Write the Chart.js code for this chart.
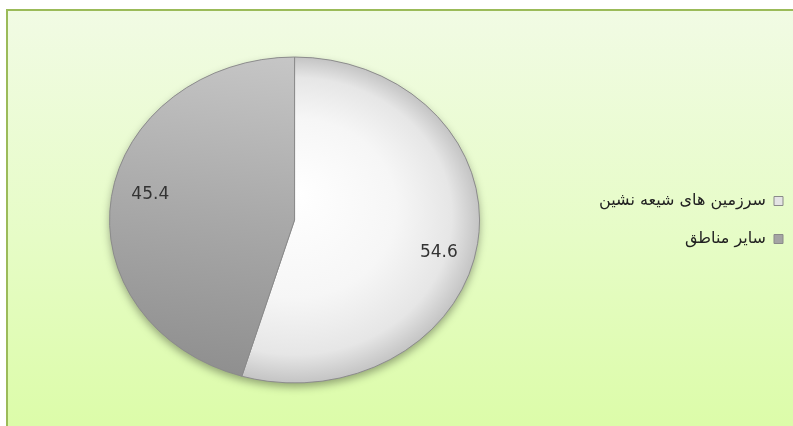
<!DOCTYPE html>
<html>
<head>
<meta charset="utf-8">
<script src="https://cdn.jsdelivr.net/npm/chart.js@4"></script>
<style>
  html, body { margin: 0; padding: 0; width: 793px; height: 426px; overflow: hidden; background: #ffffff; }
  #frame { position: absolute; left: 6px; top: 9px; width: 787px; height: 417px;
           border-left: 2px solid #9bbb59; border-top: 2px solid #9bbb59; box-sizing: border-box;
           background: linear-gradient(to bottom, #f1fbe4 0%, #e6fcc6 55%, #dcfca9 100%); }
  #c { position: absolute; left: 0; top: 0; }
</style>
</head>
<body>
<div id="frame"></div>
<canvas id="c" width="793" height="426"></canvas>
<script>
// ---- data ----
const categories = ['سرزمین های شیعه نشین', 'سایر مناطق'];
const values = [54.6, 45.4];
const valueLabels = ['54.6', '45.4'];

// ---- styles ----
const legendColors = ['#e4e4e4', '#a4a4a4'];
const ellipseRatio = 0.881;
const pieRadius = 185;

function pieCenter(chart) {
  const a = chart.chartArea;
  return { x: (a.left + a.right) / 2, y: (a.top + a.bottom) / 2 };
}

function sliceFill(context) {
  const chart = context.chart;
  if (!chart.chartArea) return '#cccccc';
  const c = pieCenter(chart);
  const g = chart.ctx;
  if (context.dataIndex === 0) {
    const rg = g.createRadialGradient(c.x, c.y - 30, 0, c.x, c.y, pieRadius);
    rg.addColorStop(0, '#ffffff');
    rg.addColorStop(0.55, '#f6f6f6');
    rg.addColorStop(0.85, '#e6e6e6');
    rg.addColorStop(1, '#c4c4c4');
    return rg;
  } else {
    const lg = g.createLinearGradient(c.x, c.y - pieRadius, c.x - 60, c.y + pieRadius);
    lg.addColorStop(0, '#c6c6c6');
    lg.addColorStop(0.5, '#a9a9a9');
    lg.addColorStop(1, '#8e8e8e');
    return lg;
  }
}

const ellipsePlugin = {
  id: 'ellipse',
  beforeDatasetsDraw(chart) {
    const ctx = chart.ctx;
    const c = pieCenter(chart);
    ctx.save();
    ctx.translate(c.x, c.y);
    ctx.scale(1, ellipseRatio);
    ctx.translate(-c.x, -c.y);
    // soft shadow under the pie
    const arc = chart.getDatasetMeta(0).data[0];
    ctx.save();
    ctx.shadowColor = 'rgba(0,0,0,0.35)';
    ctx.shadowBlur = 8;
    ctx.shadowOffsetY = 4;
    ctx.beginPath();
    ctx.arc(arc.x, arc.y, arc.outerRadius, 0, Math.PI * 2);
    ctx.fillStyle = '#9a9a9a';
    ctx.fill();
    ctx.restore();
  },
  afterDatasetsDraw(chart) {
    const ctx = chart.ctx;
    ctx.restore();
    // value labels
    const meta = chart.getDatasetMeta(0);
    const c = pieCenter(chart);
    ctx.save();
    ctx.font = '17px "DejaVu Sans", Verdana, sans-serif';
    ctx.fillStyle = '#333333';
    ctx.textAlign = 'center';
    ctx.textBaseline = 'middle';
    meta.data.forEach((el, i) => {
      const mid = (el.startAngle + el.endAngle) / 2 + 0.08;
      const r = el.outerRadius * 0.8;
      const x = el.x + Math.cos(mid) * r;
      const y = c.y + (el.y + Math.sin(mid) * r - c.y) * ellipseRatio + 4;
      ctx.fillText(valueLabels[i], x, y);
    });
    ctx.restore();
  }
};

new Chart(document.getElementById('c'), {
  type: 'pie',
  data: {
    labels: categories,
    datasets: [{
      data: values,
      backgroundColor: sliceFill,
      borderColor: '#8a8a8a',
      borderWidth: 1
    }]
  },
  options: {
    responsive: false,
    animation: false,
    radius: pieRadius,
    layout: { padding: { left: 0, right: -12, top: 14, bottom: 0 } },
    plugins: {
      tooltip: { enabled: false },
      legend: {
        position: 'right',
        rtl: true,
        textDirection: 'rtl',
        labels: {
          boxWidth: 9,
          boxHeight: 9,
          padding: 22,
          color: '#222222',
          font: { size: 16, family: '"DejaVu Sans", Arial, sans-serif' },
          generateLabels(chart) {
            const items = Chart.overrides.pie.plugins.legend.labels.generateLabels(chart);
            items.forEach((it, i) => {
              it.fillStyle = legendColors[i];
              it.strokeStyle = '#8a8a8a';
              it.lineWidth = 1;
            });
            return items;
          }
        }
      }
    }
  },
  plugins: [ellipsePlugin]
});
</script>
</body>
</html>
